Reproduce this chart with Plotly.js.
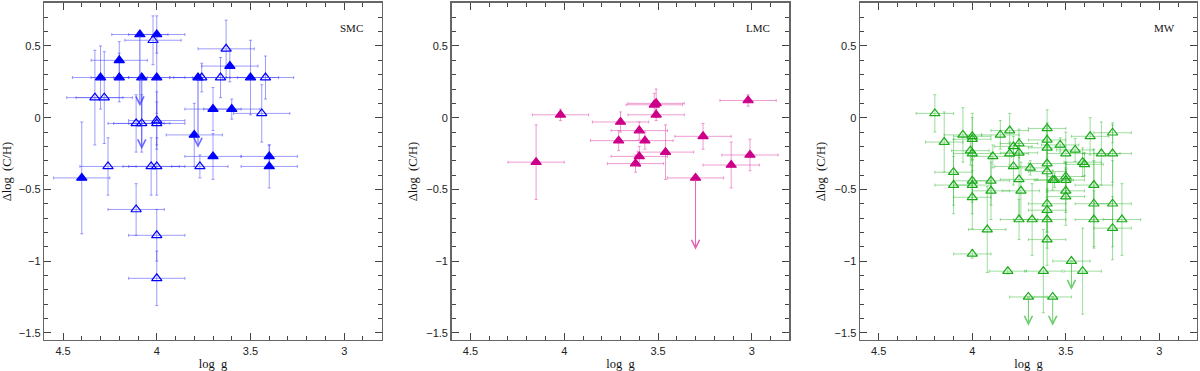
<!DOCTYPE html>
<html>
<head>
<meta charset="utf-8">
<script src="https://cdn.plot.ly/plotly-3.0.1.min.js"></script>
<style>
  html, body { margin: 0; padding: 0; background: #fff; }
  #chart { width: 1200px; height: 371px; }
</style>
</head>
<body>
<div id="chart"></div>
<script>
// axis ticks
var xTicks = [4.5, 4, 3.5, 3];
var xTickText = ["4.5", "4", "3.5", "3"];
var yTicks = [0.5, 0, -0.5, -1, -1.5];
var yTickText = ["0.5", "0", "\u22120.5", "\u22121", "\u22121.5"];
var panelNames = ["SMC", "LMC", "MW"];

// SMC, filled triangles
var smcFillX = [4.09, 4.00, 4.20, 4.30, 4.20, 4.08, 4.00, 3.78, 3.61, 3.50, 3.70, 3.60, 3.80, 3.70, 3.40, 3.40, 4.40];
var smcFillY = [0.58, 0.58, 0.40, 0.28, 0.28, 0.28, 0.28, 0.28, 0.36, 0.28, 0.06, 0.06, -0.12, -0.27, -0.27, -0.34, -0.42];
var smcFillEy = [0, 0.13, 0.13, 0.22, 0.17, 0, 0.25, 0, 0.11, 0.26, 0.15, 0.07, 0.22, 0.16, 0.08, 0.15, 0.39];
// SMC, open triangles
var smcOpenX = [4.02, 3.63, 3.76, 3.66, 3.42, 4.33, 4.28, 3.44, 4.11, 4.08, 4.00, 4.00, 4.26, 4.03, 4.00, 3.77, 4.11, 4.00, 4.00];
var smcOpenY = [0.54, 0.48, 0.28, 0.28, 0.28, 0.14, 0.14, 0.03, -0.04, -0.04, -0.02, -0.04, -0.34, -0.34, -0.34, -0.34, -0.64, -0.82, -1.12];
var smcOpenEy = [0.17, 0.2, 0.1, 0.14, 0.15, 0.33, 0.32, 0.2, 0.2, 0.2, 0.2, 0.15, 0.2, 0.2, 0.2, 0.08, 0.18, 0.18, 0.19];
var smcErrX = 0.15;
// SMC upper limits
var smcLimX = [4.09, 4.08, 3.78];
var smcLimY = [0.58, 0.28, 0.28];
var smcLimTo = [0.08, -0.22, -0.21];

// LMC
var lmcX = [4.15, 4.02, 3.70, 3.71, 3.60, 3.57, 3.60, 3.62, 3.46, 3.52, 3.51, 3.51, 3.26, 3.30, 3.11, 3.01, 3.02];
var lmcY = [-0.31, 0.02, -0.03, -0.16, -0.09, -0.16, -0.27, -0.32, -0.24, 0.09, 0.10, 0.02, -0.13, -0.42, -0.33, -0.26, 0.12];
var lmcEy = [0.26, 0.04, 0.07, 0.07, 0.06, 0.06, 0.07, 0.06, 0.19, 0.08, 0.1, 0.04, 0.09, 0, 0.16, 0.11, 0.04];
var lmcErrX = 0.15;
var lmcLimX = [3.30];
var lmcLimY = [-0.42];
var lmcLimTo = [-0.92];

// MW
var mwX = [4.20, 4.15, 4.05, 4.00, 4.00, 4.01, 4.00, 4.10, 4.10, 4.00, 4.00, 4.00, 4.00, 3.92,
           3.90, 3.90, 3.89, 3.85, 3.80, 3.78, 3.80, 3.75, 3.75, 3.78, 3.75, 3.74, 3.75, 3.69,
           3.68, 3.81, 3.62, 3.70, 3.57, 3.60, 3.60, 3.60, 3.60, 3.60, 3.60, 3.60, 3.60, 3.60,
           3.57, 3.56, 3.53, 3.50, 3.50, 3.50, 3.50, 3.50, 3.45, 3.47, 3.41, 3.40, 3.41, 3.37,
           3.35, 3.35, 3.35, 3.31, 3.25, 3.25, 3.25, 3.25, 3.20];
var mwY = [0.03, -0.17, -0.12, -0.13, -0.15, -0.23, -0.25, -0.38, -0.47, -0.44, -0.47, -0.555, -0.95, -0.78,
           -0.44, -0.51, -0.27, -0.12, -0.09, -0.20, -0.25, -0.18, -0.245, -0.34, -0.43, -0.51, -0.71, -0.35,
           -0.71, -1.07, -1.07, -1.25, -1.25, -0.075, -0.155, -0.21, -0.32, -0.375, -0.60, -0.645, -0.71, -0.85,
           -0.435, -0.435, -0.19, -0.25, -0.41, -0.435, -0.51, -0.55, -0.225, -1.00, -0.31, -0.325, -1.07, -0.13,
           -0.47, -0.60, -0.71, -0.25, -0.105, -0.25, -0.60, -0.77, -0.71];
var mwEy = [0.13, 0.21, 0.19, 0.16, 0.15, 0.1, 0.12, 0.23, 0.2, 0.15, 0.2, 0.22, 0.03, 0.3,
            0.17, 0.2, 0.08, 0.1, 0.12, 0.07, 0.08, 0.1, 0.1, 0.13, 0.25, 0.2, 0.14, 0.05,
            0.25, 0.02, 0.29, 0, 0, 0.13, 0.12, 0.15, 0.2, 0.18, 0.2, 0.15, 0.2, 0.18,
            0.07, 0.05, 0.05, 0.15, 0.1, 0.12, 0.15, 0.2, 0.08, 0, 0.1, 0.08, 0.3, 0.13,
            0.25, 0.3, 0.2, 0.22, 0.07, 0.2, 0.3, 0.22, 0.25];
var mwErrX = 0.1;
var mwLimX = [3.70, 3.57, 3.47];
var mwLimY = [-1.25, -1.25, -1.00];
var mwLimTo = [-1.45, -1.45, -1.20];

var smcCol = "#0000ff", smcBar = "rgba(60,60,255,0.5)";
var lmcCol = "#cc0088", lmcBar = "rgba(228,90,180,0.6)";
var mwCol = "#1aaa1a", mwBar = "rgba(60,190,60,0.5)";

function pts(x, y, ex, ey, xa, ya, sym, col, barCol) {
  return {
    x: x, y: y, xaxis: xa, yaxis: ya, type: "scatter", mode: "markers",
    marker: {symbol: sym, size: 9, color: col, line: {width: 1.2, color: col}},
    error_x: {type: "constant", value: ex, color: barCol, thickness: 1, width: 1.5},
    error_y: {type: "data", array: ey, color: barCol, thickness: 1, width: 1.5},
    hoverinfo: "skip", showlegend: false
  };
}

var data = [
  pts(smcOpenX, smcOpenY, smcErrX, smcOpenEy, "x", "y", "triangle-up-open", smcCol, smcBar),
  pts(smcFillX, smcFillY, smcErrX, smcFillEy, "x", "y", "triangle-up", smcCol, smcBar),
  pts(lmcX, lmcY, lmcErrX, lmcEy, "x2", "y2", "triangle-up", lmcCol, lmcBar),
  pts(mwX, mwY, mwErrX, mwEy, "x3", "y3", "triangle-up-open", mwCol, mwBar)
];

var annotations = [];
function limits(lx, ly, lto, n, col) {
  for (var i = 0; i < lx.length; i++) {
    annotations.push({
      x: lx[i], y: lto[i], ax: lx[i], ay: ly[i],
      xref: "x" + n, yref: "y" + n, axref: "x" + n, ayref: "y" + n,
      text: "", showarrow: true, arrowhead: 5, arrowsize: 1.6, arrowwidth: 1,
      arrowcolor: col, standoff: 0, startstandoff: 0
    });
  }
}
limits(smcLimX, smcLimY, smcLimTo, "", "rgba(60,60,255,0.75)");
limits(lmcLimX, lmcLimY, lmcLimTo, "2", "rgba(220,60,160,0.8)");
limits(mwLimX, mwLimY, mwLimTo, "3", "rgba(60,190,60,0.75)");

var labelX = [0.95, 0.95, 0.94];
var refs = ["x", "x2", "x3"];
var yrefs = ["y", "y2", "y3"];
for (var k = 0; k < 3; k++) {
  annotations.push({
    text: panelNames[k], xref: refs[k] + " domain", yref: yrefs[k] + " domain",
    x: labelX[k], y: 0.926, xanchor: "right", yanchor: "middle", showarrow: false,
    font: {family: "Liberation Serif, serif", size: 11, color: "#111"}
  });
}

var tickFont = {family: "Liberation Sans, Arial, sans-serif", size: 11, color: "#222"};
var titleFont = {family: "Liberation Serif, serif", size: 12.5, color: "#111"};

function xAxis(dom, anchor) {
  return {
    domain: dom, anchor: anchor, range: [4.6, 2.8],
    tickmode: "array", tickvals: xTicks, ticktext: xTickText,
    ticks: "inside", ticklen: 7, tickwidth: 1, tickcolor: "#444",
    minor: {dtick: 0.1, tick0: 0, ticks: "inside", ticklen: 4, tickwidth: 1, tickcolor: "#444", showgrid: false},
    showline: true, linecolor: "#666", linewidth: 1.5, mirror: "ticks",
    showgrid: false, zeroline: false, tickfont: tickFont,
    title: {text: "log\u2002g", font: titleFont, standoff: 3}
  };
}
function yAxis(anchor) {
  return {
    domain: [0.0836, 0.992], anchor: anchor, range: [-1.55, 0.8],
    tickmode: "array", tickvals: yTicks, ticktext: yTickText,
    ticks: "inside", ticklen: 7, tickwidth: 1, tickcolor: "#444",
    minor: {dtick: 0.1, tick0: 0, ticks: "inside", ticklen: 4, tickwidth: 1, tickcolor: "#444", showgrid: false},
    showline: true, linecolor: "#666", linewidth: 1.5, mirror: "ticks",
    showgrid: false, zeroline: false, tickfont: tickFont,
    title: {text: "\u0394log\u2002(C/H)", font: titleFont, standoff: 6}
  };
}

var layout = {
  width: 1200, height: 371,
  margin: {l: 0, r: 0, t: 0, b: 0},
  paper_bgcolor: "#fff", plot_bgcolor: "#fff",
  xaxis: xAxis([0.0369, 0.3181], "y"),
  yaxis: yAxis("x"),
  xaxis2: xAxis([0.3764, 0.6578], "y2"),
  yaxis2: yAxis("x2"),
  xaxis3: xAxis([0.7167, 0.9973], "y3"),
  yaxis3: yAxis("x3"),
  annotations: annotations
};

Plotly.newPlot("chart", data, layout, {displayModeBar: false, staticPlot: true});
</script>
</body>
</html>
